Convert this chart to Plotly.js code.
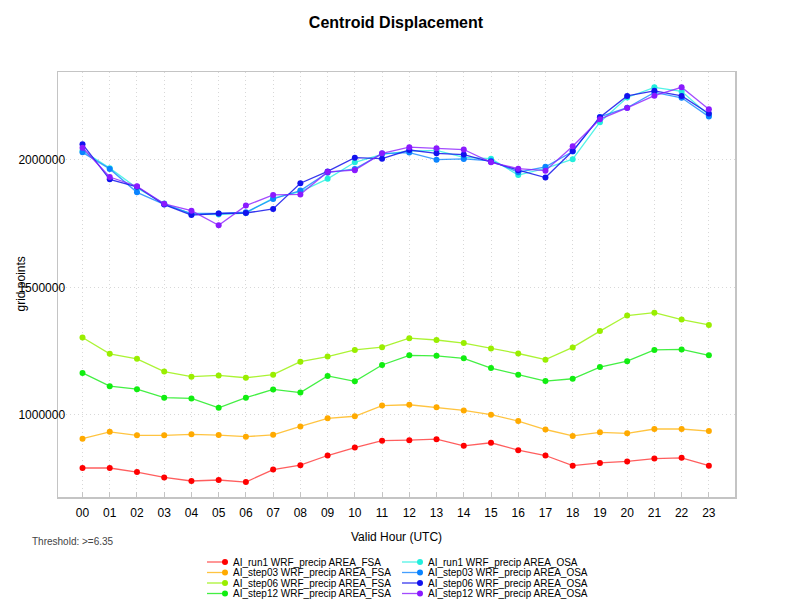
<!DOCTYPE html>
<html>
<head>
<meta charset="utf-8">
<script src="https://cdn.plot.ly/plotly-3.0.1.min.js"></script>
<style>html,body{margin:0;padding:0;background:#fff;}#chart{width:792px;height:612px;}</style>
</head>
<body>
<div id="chart"></div>
<script>
// ---- data ----
var hours = ['00','01','02','03','04','05','06','07','08','09','10','11','12','13','14','15','16','17','18','19','20','21','22','23'];

var seriesNames = [
  'AI_run1 WRF_precip AREA_FSA',
  'AI_step03 WRF_precip AREA_FSA',
  'AI_step06 WRF_precip AREA_FSA',
  'AI_step12 WRF_precip AREA_FSA',
  'AI_run1 WRF_precip AREA_OSA',
  'AI_step03 WRF_precip AREA_OSA',
  'AI_step06 WRF_precip AREA_OSA',
  'AI_step12 WRF_precip AREA_OSA'
];

var run1FSA   = [792000, 792000, 776000, 755000, 741000, 745000, 737000, 786000, 803000, 841000, 872000, 899000, 901000, 905000, 879000, 891000, 862000, 841000, 801000, 812000, 818000, 829000, 832000, 801000];
var step03FSA = [907000, 934000, 920000, 920000, 924000, 921000, 915000, 922000, 955000, 987000, 995000, 1037000, 1040000, 1030000, 1018000, 1001000, 976000, 943000, 918000, 932000, 928000, 945000, 945000, 937000];
var step06FSA = [1304000, 1240000, 1220000, 1170000, 1150000, 1155000, 1146000, 1158000, 1209000, 1229000, 1255000, 1266000, 1301000, 1294000, 1282000, 1261000, 1241000, 1217000, 1265000, 1329000, 1390000, 1401000, 1374000, 1353000];
var step12FSA = [1165000, 1113000, 1101000, 1068000, 1065000, 1028000, 1068000, 1100000, 1088000, 1153000, 1132000, 1196000, 1234000, 1232000, 1222000, 1184000, 1158000, 1133000, 1142000, 1188000, 1211000, 1255000, 1257000, 1234000];
var run1OSA   = [2036000, 1968000, 1890000, 1829000, 1788000, 1786000, 1792000, 1850000, 1876000, 1926000, 1991000, 2022000, 2035000, 2038000, 2010000, 2005000, 1941000, 1967000, 2003000, 2148000, 2245000, 2285000, 2269000, 2175000];
var step03OSA = [2030000, 1965000, 1873000, 1826000, 1790000, 1790000, 1795000, 1847000, 1880000, 1950000, 1965000, 2025000, 2029000, 2001000, 2004000, 1997000, 1952000, 1973000, 2033000, 2169000, 2205000, 2265000, 2244000, 2170000];
var step06OSA = [2062000, 1924000, 1895000, 1825000, 1784000, 1790000, 1792000, 1808000, 1909000, 1955000, 2009000, 2005000, 2039000, 2026000, 2021000, 1993000, 1960000, 1931000, 2035000, 2168000, 2251000, 2271000, 2251000, 2182000];
var step12OSA = [2048000, 1933000, 1897000, 1828000, 1801000, 1744000, 1821000, 1863000, 1865000, 1953000, 1960000, 2026000, 2050000, 2046000, 2041000, 1991000, 1966000, 1958000, 2054000, 2160000, 2204000, 2252000, 2285000, 2199000];

var yTicks = [1000000, 1500000, 2000000];

// ---- styles ----
var allValues = [run1FSA, step03FSA, step06FSA, step12FSA, run1OSA, step03OSA, step06OSA, step12OSA];
var markerColors = ['#FF0000', '#FFAA00', '#99EE00', '#11EE11', '#22EEDD', '#0A84FF', '#1212EE', '#8A1AFF'];
var lineColors = ['rgba(255,40,40,0.75)', 'rgba(255,176,0,0.75)', 'rgba(150,240,0,0.8)', 'rgba(20,235,20,0.8)',
                  'rgba(40,240,225,0.8)', 'rgba(20,135,255,0.8)', 'rgba(20,20,235,0.85)', 'rgba(140,30,255,0.8)'];

var data = allValues.map(function (vals, i) {
  return {
    type: 'scatter',
    mode: 'lines+markers',
    x: hours,
    y: vals,
    name: seriesNames[i],
    legend: i < 4 ? 'legend' : 'legend2',
    line: {color: lineColors[i], width: 1.3},
    marker: {color: markerColors[i], size: 6}
  };
});

var FONT = 'Liberation Sans, Arial, Helvetica, sans-serif';

var layout = {
  width: 792,
  height: 612,
  paper_bgcolor: '#ffffff',
  plot_bgcolor: '#ffffff',
  font: {family: FONT, size: 12, color: '#000'},
  margin: {l: 58, r: 57, t: 72, b: 115, pad: 0, autoexpand: false},
  showlegend: true,
  title: {
    text: '<b>Centroid Displacement</b>',
    font: {family: FONT, size: 16, color: '#000'},
    x: 0.5, xref: 'container', xanchor: 'center',
    y: 1 - 22 / 612, yref: 'container', yanchor: 'middle'
  },
  xaxis: {
    type: 'category',
    range: [-0.9, 23.96],
    showline: true, mirror: true, linecolor: '#c4c4c4', linewidth: 1.5,
    showgrid: true, gridcolor: '#d8d8d8', griddash: '1px,3px', gridwidth: 1,
    ticks: 'inside', ticklen: 5, tickcolor: '#c4c4c4',
    ticklabelstandoff: 4,
    tickfont: {family: FONT, size: 12, color: '#000'},
    zeroline: false,
    automargin: false,
    title: {text: 'Valid Hour (UTC)', font: {family: FONT, size: 12, color: '#000'}, standoff: 13}
  },
  yaxis: {
    range: [678300, 2345000],
    tickvals: yTicks,
    tickformat: 'd',
    showline: true, mirror: true, linecolor: '#c4c4c4', linewidth: 1.5,
    showgrid: true, gridcolor: '#d8d8d8', griddash: '1px,3px', gridwidth: 1,
    ticks: '',
    ticklabelstandoff: -11,
    tickfont: {family: FONT, size: 12, color: '#000'},
    zeroline: false,
    automargin: false
  },
  annotations: [
    {text: 'grid points', xref: 'paper', yref: 'paper', x: (20 - 58) / 677, y: 0.5,
     xanchor: 'center', yanchor: 'middle', textangle: -90, showarrow: false,
     font: {family: FONT, size: 12, color: '#000'}},
    {text: 'Threshold: >=6.35', xref: 'paper', yref: 'paper', x: (30 - 58) / 677, y: (497 - 541) / 425,
     xanchor: 'left', yanchor: 'middle', showarrow: false,
     font: {family: FONT, size: 10, color: '#444'}}
  ],
  legend: {
    orientation: 'v', xref: 'container', yref: 'container',
    x: 193 / 792, xanchor: 'left', y: 0, yanchor: 'bottom',
    bgcolor: 'rgba(0,0,0,0)', borderwidth: 0, itemwidth: 30,
    font: {family: FONT, size: 10, color: '#000'}, traceorder: 'normal'
  },
  legend2: {
    orientation: 'v', xref: 'container', yref: 'container',
    x: 388 / 792, xanchor: 'left', y: 0, yanchor: 'bottom',
    bgcolor: 'rgba(0,0,0,0)', borderwidth: 0, itemwidth: 30,
    font: {family: FONT, size: 10, color: '#000'}, traceorder: 'normal'
  }
};

var ROW0 = 562, ROWSTEP = 10.5;
var gd = document.getElementById('chart');
Plotly.newPlot(gd, data, layout, {staticPlot: true, displayModeBar: false}).then(function () {
  var re = /translate\(\s*([-\d.eE]+)[ ,]+([-\d.eE]+)\s*\)/;
  ['legend', 'legend2'].forEach(function (cls) {
    var lg = gd.querySelector('g.' + cls);
    if (!lg) return;
    var m = re.exec(lg.getAttribute('transform') || '');
    var ly = m ? parseFloat(m[2]) : 0;
    var items = Array.prototype.slice.call(lg.querySelectorAll('g.traces'));
    items.sort(function (a, b) {
      var ma = re.exec(a.getAttribute('transform') || ''), mb = re.exec(b.getAttribute('transform') || '');
      return (ma ? parseFloat(ma[2]) : 0) - (mb ? parseFloat(mb[2]) : 0);
    });
    items.forEach(function (tr, i) {
      var tm = re.exec(tr.getAttribute('transform') || '');
      var tx = tm ? tm[1] : 0;
      tr.setAttribute('transform', 'translate(' + tx + ',' + (ROW0 + ROWSTEP * i - ly) + ')');
      var ln = tr.querySelector('.legendlines path');
      if (ln) ln.setAttribute('d', 'M14,0h18');
      var pt = tr.querySelector('.legendpoints path');
      if (pt) pt.setAttribute('transform', 'translate(32,0)');
    });
  });
});
</script>
</body>
</html>
